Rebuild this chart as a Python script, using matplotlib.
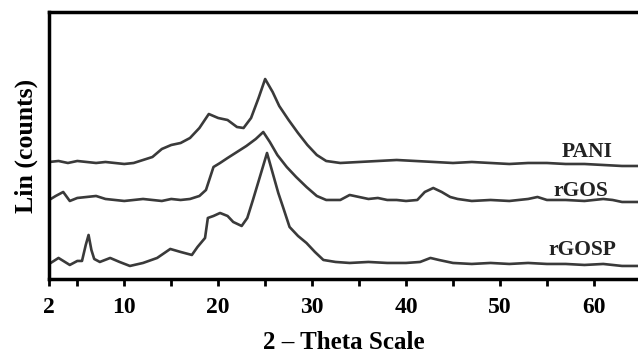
import matplotlib.pyplot as plt
import numpy as np

# XRD patterns (2-theta, intensity in arbitrary units)
pani_x = [2, 3, 4, 5, 6, 7, 8, 9, 10, 11, 12, 13, 14, 15, 16, 17, 18, 19, 20, 21, 22, 22.7,
          23.5, 24.3, 25, 25.8, 26.5, 27.5, 28.5, 29.5, 30.5, 31.5, 33, 35, 37, 39, 41, 43,
          45, 47, 49, 51, 53, 55, 57, 59, 61, 63, 64.7]
pani_y = [117, 118, 116, 118, 117, 116, 117, 116, 115, 116, 119, 122, 130, 134, 136, 141, 151,
          165, 161, 159, 152, 151, 161, 181, 200, 187, 173, 159, 146, 134, 124, 118, 116, 117,
          118, 119, 118, 117, 116, 117, 116, 115, 116, 116, 115, 115, 114, 113, 113]

rgos_x = [2, 2.7, 3.5, 4.2, 5, 6, 7, 8, 9, 10, 11, 12, 13, 14, 15, 16, 17, 18, 18.7, 19.5,
          20.2, 21, 22, 23, 24, 24.8, 25.5, 26.3, 27.3, 28.3, 29.4, 30.5, 31.5, 33, 34, 35,
          36, 37, 38, 39, 40, 41.2, 42, 42.9, 43.8, 44.7, 45.5, 47, 49, 51, 53, 54, 55, 57,
          59, 61, 62, 63, 64.7]
rgos_y = [79, 83, 87, 78, 81, 82, 83, 80, 79, 78, 79, 80, 79, 78, 80, 79, 80, 83, 89, 112,
          116, 121, 127, 133, 140, 147, 137, 124, 112, 102, 92, 83, 79, 79, 84, 82, 80, 81,
          79, 79, 78, 79, 87, 91, 87, 82, 80, 78, 79, 78, 80, 82, 79, 79, 78, 80, 79, 77, 77]

rgosp_x = [2, 3, 4.2, 5, 5.5, 5.9, 6.2, 6.5, 6.8, 7.4, 8.5, 9.5, 10.6, 12, 13.5, 14.9, 16,
           17.2, 17.8, 18.6, 18.9, 19.5, 20.2, 21, 21.6, 22.5, 23.1, 23.7, 24.5, 25.2, 25.8,
           26.4, 26.9, 27.6, 28.5, 29.4, 30.3, 31.2, 32.5, 34, 36, 38, 40, 41.5, 42.6, 43.5,
           45, 47, 49, 51, 53, 55, 57, 59, 61, 63, 64.7]
rgosp_y = [15, 21, 14, 18, 18, 34, 44, 29, 20, 17, 21, 17, 13, 16, 21, 30, 27, 24, 32, 41,
           61, 63, 66, 63, 57, 53, 61, 79, 104, 126, 106, 86, 72, 52, 43, 36, 27, 19, 17, 16,
           17, 16, 16, 17, 21, 19, 16, 15, 16, 15, 16, 15, 15, 14, 15, 13, 13]

names = ['PANI', 'rGOS', 'rGOSP']
name_x = [59.3, 58.6, 58.8]
name_y = [127, 88, 29]

plt.rcParams['font.family'] = ['Liberation Serif', 'DejaVu Serif']

fig = plt.figure(figsize=(6.38, 3.54), dpi=100)
ax = fig.add_axes([0.077, 0.212, 0.923, 0.754])

col = '#3a3a3a'
for xs, ys in [(pani_x, pani_y), (rgos_x, rgos_y), (rgosp_x, rgosp_y)]:
    ax.plot(xs, ys, color=col, lw=1.9, solid_joinstyle='round')

for n, tx, ty in zip(names, name_x, name_y):
    ax.text(tx, ty, n, ha='center', va='center', fontsize=15.5, fontweight='bold', color='#222222')

ax.set_xlim(2, 64.7)
ax.set_ylim(0, 267)
ax.set_xticks([2, 10, 20, 30, 40, 50, 60])
ax.set_xticks([5, 15, 25, 35, 45, 55], minor=True)
ax.set_yticks([])
ax.tick_params(axis='x', which='both', direction='out', length=5, width=2, labelsize=17, pad=8)
for lab in ax.get_xticklabels():
    lab.set_fontweight('bold')
for s in ['left', 'top', 'bottom']:
    ax.spines[s].set_linewidth(2.5)
ax.spines['right'].set_visible(False)

ax.set_xlabel('2 – Theta Scale', fontsize=18, fontweight='bold', labelpad=9)
ax.set_ylabel('Lin (counts)', fontsize=18.5, fontweight='bold', labelpad=8)

fig.savefig('out.png', dpi=100)
